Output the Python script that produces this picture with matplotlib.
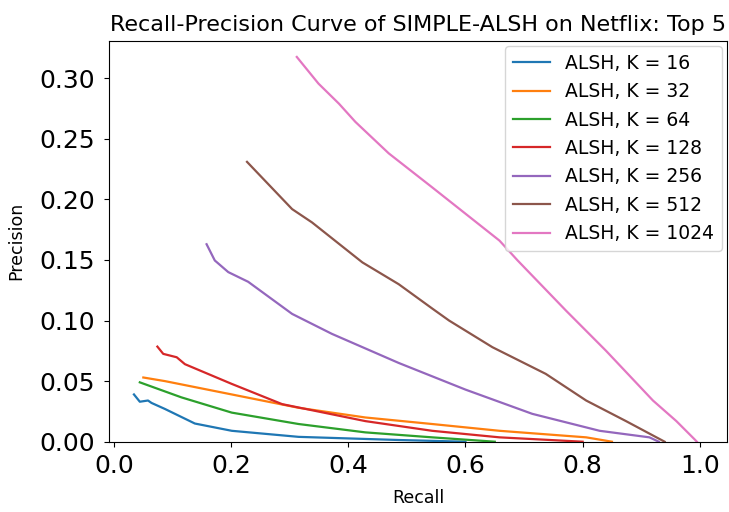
import numpy as np
import matplotlib
matplotlib.use('Agg')
import matplotlib.pyplot as plt

# recall / precision
k_values = [16, 32, 64, 128, 256, 512, 1024]

recall_16 = [0.034, 0.044, 0.058, 0.064, 0.087, 0.138, 0.201, 0.315, 0.486, 0.60]
prec_16 = [0.039, 0.033, 0.034, 0.032, 0.027, 0.015, 0.009, 0.004, 0.0014, 0.0]

recall_32 = [0.050, 0.087, 0.201, 0.315, 0.429, 0.543, 0.658, 0.806, 0.85]
prec_32 = [0.053, 0.050, 0.039, 0.028, 0.020, 0.0146, 0.009, 0.0036, 0.0]

recall_64 = [0.044, 0.115, 0.201, 0.315, 0.429, 0.543, 0.65]
prec_64 = [0.049, 0.0366, 0.024, 0.0146, 0.0077, 0.0036, 0.0]

recall_128 = [0.074, 0.084, 0.107, 0.121, 0.201, 0.287, 0.429, 0.543, 0.658, 0.80]
prec_128 = [0.0785, 0.0725, 0.0697, 0.064, 0.0477, 0.031, 0.017, 0.009, 0.0036, 0.0]

recall_256 = [0.158, 0.172, 0.195, 0.229, 0.304, 0.372, 0.486, 0.600, 0.714, 0.829, 0.914, 0.93]
prec_256 = [0.163, 0.1496, 0.140, 0.132, 0.1055, 0.089, 0.065, 0.043, 0.023, 0.009, 0.0036, 0.0]

recall_512 = [0.227, 0.304, 0.338, 0.424, 0.486, 0.543, 0.572, 0.646, 0.737, 0.806, 0.874, 0.926, 0.94]
prec_512 = [0.231, 0.192, 0.181, 0.148, 0.130, 0.110, 0.100, 0.078, 0.056, 0.034, 0.017, 0.0036, 0.0]

recall_1024 = [0.312, 0.349, 0.384, 0.412, 0.469, 0.543, 0.658, 0.689, 0.772, 0.840, 0.920, 0.960, 0.991, 0.995]
prec_1024 = [0.3176, 0.2956, 0.279, 0.264, 0.238, 0.210, 0.166, 0.1496, 0.108, 0.075, 0.034, 0.017, 0.002, 0.0]

recalls = [recall_16, recall_32, recall_64, recall_128, recall_256, recall_512, recall_1024]
precisions = [prec_16, prec_32, prec_64, prec_128, prec_256, prec_512, prec_1024]

fig = plt.figure(figsize=(7.29, 5.12), dpi=100)
ax = fig.add_axes([0.150, 0.1373, 0.8477, 0.7832])

for k, r, p in zip(k_values, recalls, precisions):
    ax.plot(r, p, linewidth=1.6, label='ALSH, K = {}'.format(k))

ax.set_xlim(-0.008, 1.047)
ax.set_ylim(0, 0.331)
ax.set_title('Recall-Precision Curve of SIMPLE-ALSH on Netflix: Top 5', fontsize=16, pad=7)
ax.set_xlabel('Recall', fontsize=12.5, labelpad=8)
ax.set_ylabel('Precision', fontsize=12.5, labelpad=10)
ax.tick_params(axis='both', labelsize=18)
ax.tick_params(axis='y', pad=7)
ax.tick_params(axis='x', pad=5)
ax.legend(loc='upper right', fontsize=13.5, borderaxespad=0.3)

fig.savefig('out.png', dpi=100)
